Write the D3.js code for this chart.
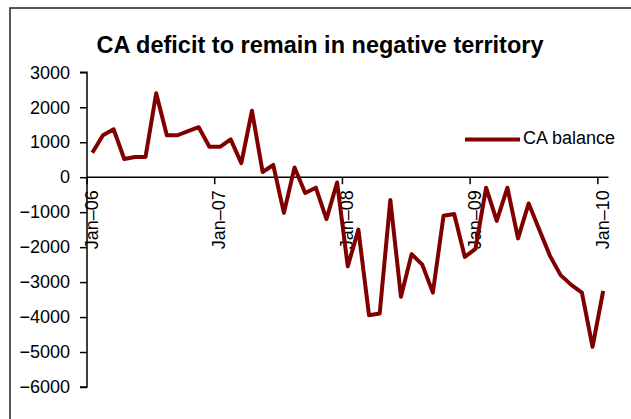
<!DOCTYPE html>
<html>
<head>
<meta charset="utf-8">
<script src="https://cdn.jsdelivr.net/npm/d3@7"></script>
<style>
  body { margin: 0; background: #fff; }
  svg { display: block; font-family: "Liberation Sans", Arial, sans-serif; }
</style>
</head>
<body>
<div class="chart"></div>
<script>
// monthly categories, Jan-06 .. Jan-10
const months = [
  'Jan-06','Feb-06','Mar-06','Apr-06','May-06','Jun-06','Jul-06','Aug-06','Sep-06','Oct-06','Nov-06','Dec-06',
  'Jan-07','Feb-07','Mar-07','Apr-07','May-07','Jun-07','Jul-07','Aug-07','Sep-07','Oct-07','Nov-07','Dec-07',
  'Jan-08','Feb-08','Mar-08','Apr-08','May-08','Jun-08','Jul-08','Aug-08','Sep-08','Oct-08','Nov-08','Dec-08',
  'Jan-09','Feb-09','Mar-09','Apr-09','May-09','Jun-09','Jul-09','Aug-09','Sep-09','Oct-09','Nov-09','Dec-09',
  'Jan-10'
];

const caBalance = [
  700, 1200, 1370, 520, 580, 580, 2400, 1200, 1200, 1320, 1430, 870,
  870, 1080, 400, 1900, 150, 350, -1020, 280, -450, -300, -1200, -150,
  -2550, -1500, -3950, -3900, -650, -3420, -2200, -2500, -3300, -1100, -1050, -2280,
  -2050, -300, -1250, -300, -1750, -750, -1500, -2250, -2800, -3080, -3300, -4850,
  -3250
];

const xTickLabels = ['Jan\u201306', 'Jan\u201307', 'Jan\u201308', 'Jan\u201309', 'Jan\u201310'];
const xTickMonths = ['Jan-06', 'Jan-07', 'Jan-08', 'Jan-09', 'Jan-10'];
const yTicks = [3000, 2000, 1000, 0, -1000, -2000, -3000, -4000, -5000, -6000];

const width = 631, height = 419;
const plot = { left: 87, right: 608.5, top: 72.3, bottom: 387 };

const svg = d3.select('.chart')
  .append('svg')
  .attr('width', width)
  .attr('height', height);

// outer frame (only top and left edges visible)
svg.append('rect')
  .attr('x', 10).attr('y', 8)
  .attr('width', 700).attr('height', 500)
  .attr('fill', 'none')
  .attr('stroke', '#222')
  .attr('stroke-width', 1.5);

svg.append('text')
  .attr('x', 320).attr('y', 53)
  .attr('text-anchor', 'middle')
  .attr('font-size', 23.5)
  .attr('font-weight', 'bold')
  .text('CA deficit to remain in negative territory');

const x = d3.scaleBand()
  .domain(months)
  .range([plot.left, plot.right])
  .padding(0);

const y = d3.scaleLinear()
  .domain([-6000, 3000])
  .range([plot.bottom, plot.top]);

// y axis
const yAxis = svg.append('g')
  .attr('transform', `translate(${plot.left},0)`)
  .call(d3.axisLeft(y).tickValues(yTicks).tickSize(7).tickPadding(10).tickFormat(d3.format('d')));
yAxis.select('.domain').attr('stroke', '#000').attr('stroke-width', 1.5).attr('d', `M-7,${y(3000)}H0V${y(-6000)}H-7`);
yAxis.selectAll('.tick line').attr('stroke', '#000').attr('stroke-width', 1.5);
yAxis.selectAll('.tick text')
  .attr('font-size', 18)
  .attr('font-family', '"Liberation Sans", Arial, sans-serif')
  .attr('fill', '#000');

// x axis at zero, ticks on category boundaries
const xAxisG = svg.append('g')
  .attr('transform', `translate(0,${y(0)})`);
xAxisG.append('line')
  .attr('x1', plot.left).attr('x2', plot.right)
  .attr('stroke', '#000').attr('stroke-width', 1.5);
xAxisG.selectAll('.xtick')
  .data(xTickMonths)
  .enter()
  .append('line')
  .attr('x1', d => x(d)).attr('x2', d => x(d))
  .attr('y1', 0).attr('y2', 7)
  .attr('stroke', '#000').attr('stroke-width', 1.5);
xAxisG.selectAll('.xlabel')
  .data(xTickMonths)
  .enter()
  .append('text')
  .attr('transform', d => `translate(${x(d) + 6},13) rotate(-90)`)
  .attr('text-anchor', 'end')
  .attr('dominant-baseline', 'middle')
  .attr('font-size', 18)
  .attr('fill', '#000')
  .text((d, i) => xTickLabels[i]);

const line = d3.line()
  .x((d, i) => x(months[i]) + x.bandwidth() / 2)
  .y(d => y(d));

svg.append('path')
  .datum(caBalance)
  .attr('fill', 'none')
  .attr('stroke', '#800000')
  .attr('stroke-width', 4)
  .attr('stroke-linejoin', 'round')
  .attr('d', line);

// legend
const legend = svg.append('g');
legend.append('line')
  .attr('x1', 465).attr('x2', 520)
  .attr('y1', 139.5).attr('y2', 139.5)
  .attr('stroke', '#800000')
  .attr('stroke-width', 4);
legend.append('text')
  .attr('x', 523).attr('y', 139.5)
  .attr('dominant-baseline', 'middle')
  .attr('font-size', 18)
  .attr('fill', '#000')
  .text('CA balance');
</script>
</body>
</html>
